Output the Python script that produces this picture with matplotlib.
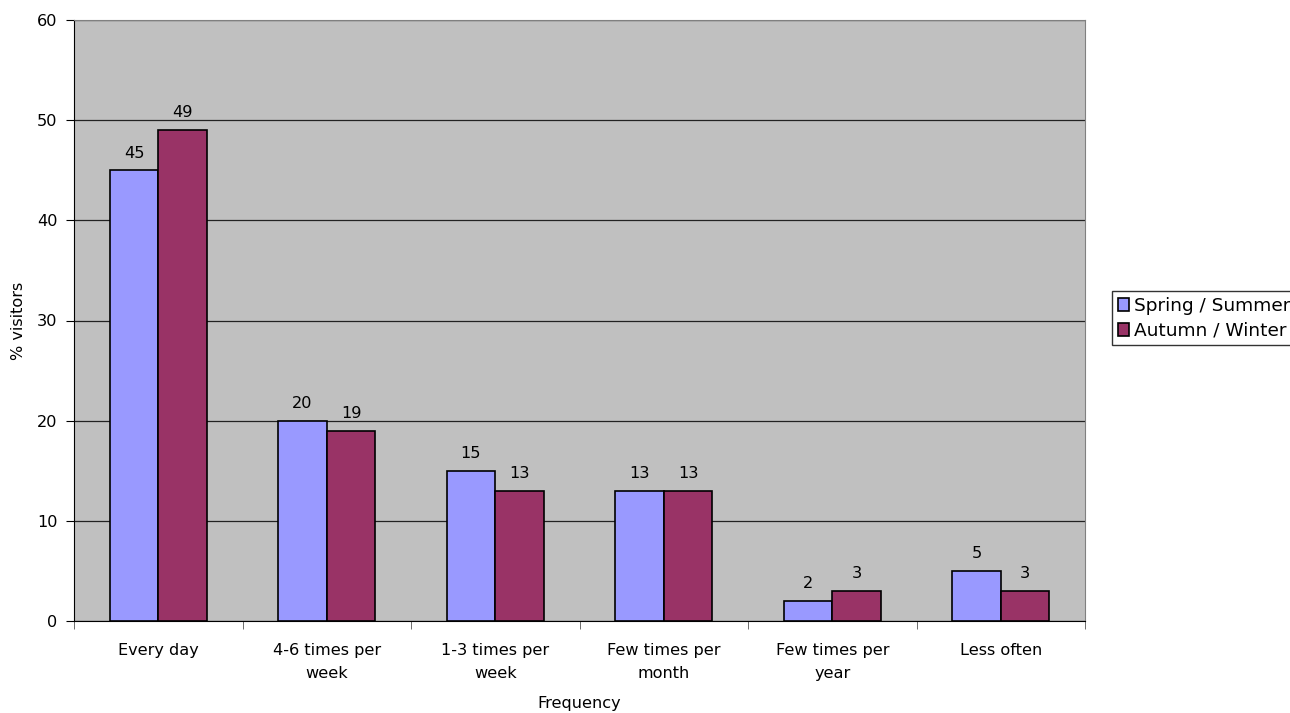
import matplotlib.pyplot as plt
import numpy as np

categories = ["Every day", "4-6 times per\nweek", "1-3 times per\nweek",
              "Few times per\nmonth", "Few times per\nyear", "Less often"]
spring_summer = [45, 20, 15, 13, 2, 5]
autumn_winter = [49, 19, 13, 13, 3, 3]
yticks = [0, 10, 20, 30, 40, 50, 60]

plt.rcParams['font.family'] = ['Verdana', 'DejaVu Sans']
plt.rcParams['font.size'] = 11.6

fig = plt.figure(figsize=(12.9, 7.13), dpi=100)
ax = fig.add_axes([74 / 1290, 1 - 621 / 713, (1085 - 74) / 1290, (621 - 20) / 713])
ax.set_facecolor('#C0C0C0')

x = np.arange(len(categories))
w = 0.288
b1 = ax.bar(x - w / 2, spring_summer, w, color='#9999FF', edgecolor='black',
            linewidth=1.2, label='Spring / Summer', zorder=3)
b2 = ax.bar(x + w / 2, autumn_winter, w, color='#993366', edgecolor='black',
            linewidth=1.2, label='Autumn / Winter', zorder=3)
ax.bar_label(b1, padding=7)
ax.bar_label(b2, padding=7)

ax.set_xlim(-0.5, len(categories) - 0.5)
ax.set_ylim(0, 60)
ax.set_yticks(yticks)
ax.yaxis.grid(True, color='#222222', linewidth=0.9, zorder=1)
ax.set_axisbelow(True)

# category labels centred, tick marks on the boundaries
ax.set_xticks(x)
ax.set_xticklabels(categories, linespacing=1.7)
ax.set_xticks(np.arange(-0.5, len(categories)), minor=True)
ax.tick_params(axis='x', which='major', length=0, pad=15.5)
ax.tick_params(axis='x', which='minor', length=6, color='#555555')
ax.tick_params(axis='y', length=6, pad=6)

for side in ['top', 'right']:
    ax.spines[side].set_color('#808080')
ax.spines['left'].set_color('black')
ax.spines['bottom'].set_color('black')

ax.set_xlabel('Frequency')
ax.xaxis.set_label_coords(0.5, -0.125)
ax.set_ylabel('% visitors')
ax.yaxis.set_label_coords(-0.047, 0.5)

leg = fig.legend(handles=[b1, b2], loc='upper left',
                 bbox_to_anchor=(1112 / 1290, 1 - 291 / 713),
                 frameon=True, fancybox=False, edgecolor='black', fontsize=13.3,
                 handlelength=0.6, handleheight=0.7, handletextpad=0.3,
                 borderpad=0.3, labelspacing=0.38, borderaxespad=0)
leg.get_frame().set_linewidth(1.0)

fig.savefig('out.png', dpi=100)
